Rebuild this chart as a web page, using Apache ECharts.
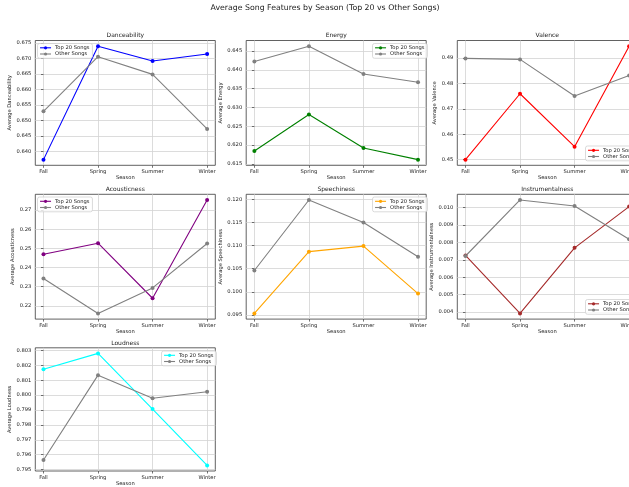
<!DOCTYPE html>
<html>
<head>
<meta charset="utf-8">
<script src="https://cdn.jsdelivr.net/npm/echarts@6/dist/echarts.min.js"></script>
<style>
  html, body { margin: 0; padding: 0; background: #fff; overflow: hidden; width: 629px; height: 487px; }
  /* the figure is wider than the window; its third column runs past the right edge */
  #chart { width: 660px; height: 487px; }
</style>
</head>
<body>
<div id="chart"></div>
<script>
// Seasons on the x axis
const seasons = ['Fall', 'Spring', 'Summer', 'Winter'];

// Average feature values per season
const danceTop = [0.6373, 0.6739, 0.6691, 0.6714];
const danceOther = [0.6529, 0.6705, 0.6648, 0.6472];
const danceTicks = [0.640, 0.645, 0.650, 0.655, 0.660, 0.665, 0.670, 0.675];

const energyTop = [0.6184, 0.6281, 0.6192, 0.6161];
const energyOther = [0.6422, 0.6463, 0.6389, 0.6367];
const energyTicks = [0.615, 0.620, 0.625, 0.630, 0.635, 0.640, 0.645];

const valenceTop = [0.4500, 0.4759, 0.4551, 0.4946];
const valenceOther = [0.4898, 0.4894, 0.4750, 0.4831];
const valenceTicks = [0.45, 0.46, 0.47, 0.48, 0.49];

const acousticTop = [0.2469, 0.2527, 0.2240, 0.2752];
const acousticOther = [0.2343, 0.2161, 0.2294, 0.2525];
const acousticTicks = [0.22, 0.23, 0.24, 0.25, 0.26, 0.27];

const speechTop = [0.0953, 0.1087, 0.1099, 0.0996];
const speechOther = [0.1046, 0.1199, 0.1150, 0.1076];
const speechTicks = [0.095, 0.100, 0.105, 0.110, 0.115, 0.120];

const instrTop = [0.00725, 0.00392, 0.00769, 0.01006];
const instrOther = [0.00722, 0.01044, 0.01009, 0.00818];
const instrTicks = [0.004, 0.005, 0.006, 0.007, 0.008, 0.009, 0.010];

const loudTop = [0.80174, 0.80280, 0.79906, 0.79528];
const loudOther = [0.79564, 0.80134, 0.79979, 0.80022];
const loudTicks = [0.795, 0.796, 0.797, 0.798, 0.799, 0.800, 0.801, 0.802, 0.803];

const TOP_NAME = 'Top 20 Songs';
const OTHER_NAME = 'Other Songs';
const OTHER_COLOR = '#808080';

// Panel setup: feature, data, colour, legend placement
const panels = [
  { title: 'Danceability', top: danceTop, other: danceOther, ticks: danceTicks, dec: 3, color: '#0000ff', legend: { left: 37.5, top: 43.5 } },
  { title: 'Energy', top: energyTop, other: energyOther, ticks: energyTicks, dec: 3, color: '#008000', legend: { left: 372.5, top: 43.5 } },
  { title: 'Valence', top: valenceTop, other: valenceOther, ticks: valenceTicks, dec: 2, color: '#ff0000', legend: { left: 585.5, top: 146 } },
  { title: 'Acousticness', top: acousticTop, other: acousticOther, ticks: acousticTicks, dec: 2, color: '#800080', legend: { left: 37.5, top: 197 } },
  { title: 'Speechiness', top: speechTop, other: speechOther, ticks: speechTicks, dec: 3, color: '#ffa500', legend: { left: 372.5, top: 197 } },
  { title: 'Instrumentalness', top: instrTop, other: instrOther, ticks: instrTicks, dec: 3, color: '#a52a2a', legend: { left: 585.5, top: 299.5 } },
  { title: 'Loudness', top: loudTop, other: loudOther, ticks: loudTicks, dec: 3, color: '#00ffff', legend: { left: 161.5, top: 351 } }
];

// Subplot grid geometry (3 columns x 3 rows)
const colLeft = [35.3, 246.2, 457.3];
const rowTop = [40.5, 194.3, 347.8];
const plotW = 180;
const plotH = 124.8;

const FONT = 'DejaVu Sans';
const TICK_FS = 5.2;
const TEXT_COLOR = '#222';

const option = {
  animation: false,
  backgroundColor: '#ffffff',
  title: [{
    text: 'Average Song Features by Season (Top 20 vs Other Songs)',
    left: 325, top: 3.5, textAlign: 'center', padding: 0,
    textStyle: { fontFamily: FONT, fontSize: 7.8, fontWeight: 'normal', color: TEXT_COLOR }
  }],
  grid: [], xAxis: [], yAxis: [], series: [], legend: []
};

panels.forEach((p, i) => {
  const col = i % 3, row = Math.floor(i / 3);
  const left = colLeft[col], top = rowTop[row];
  const all = p.top.concat(p.other);
  const lo = Math.min(...all), hi = Math.max(...all);
  const pad = (hi - lo) * 0.05;

  option.title.push({
    text: p.title, left: left + plotW / 2, top: top - 7.6, textAlign: 'center', padding: 0,
    textStyle: { fontFamily: FONT, fontSize: 6, fontWeight: 'normal', color: TEXT_COLOR }
  });

  option.grid.push({
    left: left, top: top, width: plotW, height: plotH,
    show: true, borderColor: '#3a3a3a', borderWidth: 0.8, backgroundColor: 'transparent'
  });

  option.xAxis.push({
    type: 'value', gridIndex: i, min: -0.15, max: 3.15,
    name: 'Season', nameLocation: 'middle', nameGap: 10,
    nameTextStyle: { fontFamily: FONT, fontSize: TICK_FS, color: TEXT_COLOR },
    axisLine: { show: false },
    axisTick: { show: true, length: 2.5, customValues: [0, 1, 2, 3], lineStyle: { color: '#3a3a3a', width: 0.7 } },
    axisLabel: {
      customValues: [0, 1, 2, 3], margin: 4,
      formatter: v => seasons[Math.round(v)] || '',
      fontFamily: FONT, fontSize: TICK_FS, color: TEXT_COLOR
    },
    splitLine: { show: true, lineStyle: { color: '#d3d3d3', width: 0.8 } }
  });

  option.yAxis.push({
    type: 'value', gridIndex: i, min: lo - pad, max: hi + pad,
    name: 'Average ' + p.title, nameLocation: 'middle', nameGap: 20,
    nameTextStyle: { fontFamily: FONT, fontSize: TICK_FS, color: TEXT_COLOR },
    axisLine: { show: false },
    axisTick: { show: true, length: 2.5, customValues: p.ticks, lineStyle: { color: '#3a3a3a', width: 0.7 } },
    axisLabel: {
      customValues: p.ticks, margin: 4,
      formatter: v => Number(v).toFixed(p.dec),
      fontFamily: FONT, fontSize: TICK_FS, color: TEXT_COLOR
    },
    splitLine: { show: true, lineStyle: { color: '#d3d3d3', width: 0.8 } }
  });

  const mk = (name, vals, color) => ({
    name: name, type: 'line', xAxisIndex: i, yAxisIndex: i,
    data: vals.map((v, k) => [k, v]),
    symbol: 'circle', symbolSize: 4, showSymbol: true,
    lineStyle: { color: color, width: 1.1 },
    itemStyle: { color: color },
    z: 3
  });
  option.series.push(mk(TOP_NAME, p.top, p.color));
  option.series.push(mk(OTHER_NAME, p.other, OTHER_COLOR));

  option.legend.push({
    orient: 'vertical', left: p.legend.left, top: p.legend.top,
    itemWidth: 11, itemHeight: 4, itemGap: 1.2,
    padding: [1.8, 3, 1.8, 2],
    borderColor: '#cccccc', borderWidth: 0.7, borderRadius: 2,
    backgroundColor: 'rgba(255,255,255,0.8)',
    selectedMode: false,
    textStyle: { fontFamily: FONT, fontSize: TICK_FS, color: TEXT_COLOR, padding: [0, 0, 0, -1] },
    data: [
      { name: TOP_NAME, itemStyle: { color: p.color }, lineStyle: { color: p.color, width: 1.1 } },
      { name: OTHER_NAME, itemStyle: { color: OTHER_COLOR }, lineStyle: { color: OTHER_COLOR, width: 1.1 } }
    ]
  });
});

const chart = echarts.init(document.getElementById('chart'), null, { renderer: 'canvas' });
chart.setOption(option);
</script>
</body>
</html>
